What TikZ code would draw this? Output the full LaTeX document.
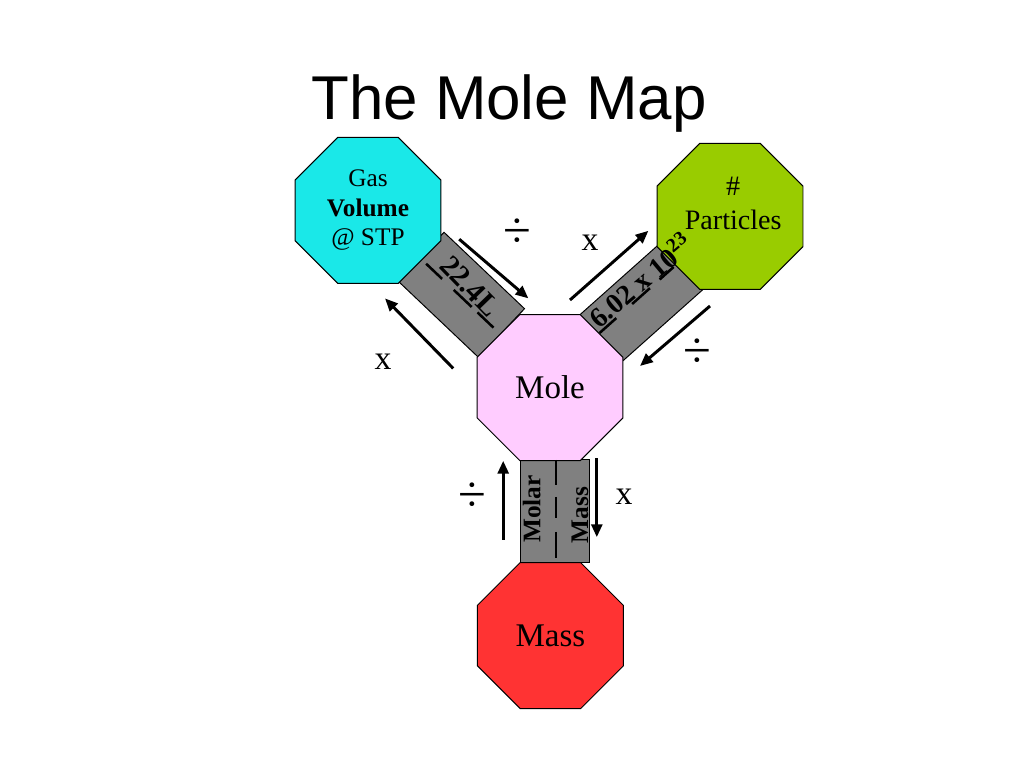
\documentclass[tikz,border=0pt]{standalone}
\usepackage{fontspec}
\setmainfont{Liberation Serif}
\newfontfamily\titlefont{Liberation Sans}
\usetikzlibrary{shapes.geometric,arrows.meta}
\definecolor{gascyan}{RGB}{26,232,232}
\definecolor{partgreen}{RGB}{153,204,0}
\definecolor{molepink}{RGB}{255,204,255}
\definecolor{massred}{RGB}{255,51,51}
\definecolor{boxgray}{RGB}{128,128,128}
\tikzset{
  octa/.style={regular polygon, regular polygon sides=8, minimum size=3.95cm,
    inner sep=0pt, outer sep=0pt, draw=black, line width=0.7pt, align=center},
  convbox/.style={draw=black, fill=boxgray, line width=0.7pt, inner sep=0pt, outer sep=0pt},
  flow/.style={line width=2.1pt, -{Triangle[length=0.32cm,width=0.27cm]}},
  barline/.style={line width=1.8pt},
  op/.style={font=\fontsize{24}{26}\selectfont},
  divop/.style={font=\fontsize{36}{38}\selectfont},
  boxtext/.style={font=\fontsize{20}{22}\selectfont\bfseries, inner sep=0pt},
}
\begin{document}
\begin{tikzpicture}
            \useasboundingbox (0,0) rectangle (25.6,19.2);
            \node[font=\titlefont\fontsize{44}{48}\selectfont, anchor=base] (title) at (12.725,16.22) {The Mole Map};
            % conversion boxes
            \node[convbox, minimum width=2.775cm, minimum height=1.675cm, rotate=-43.5] (volbox) at (11.53,11.83) {};
            \node[convbox, minimum width=2.725cm, minimum height=1.575cm, rotate=41.7] (avobox) at (16.04,11.65) {};
            \node[convbox, minimum width=1.725cm, minimum height=2.575cm] (molbox) at (13.87,6.42) {};
            % octagons
            \node[octa, fill=gascyan, font=\fontsize{18}{21}\selectfont] (gas) at (9.2,13.94) {Gas\\\textbf{Volume}\\@ STP};
            \node[octa, fill=partgreen] (part) at (18.25,13.79) {};
            \node[font=\fontsize{20}{24}\selectfont, align=center] (partlbl) at (18.33,14.12) {\#\\Particles};
            \node[octa, fill=molepink, font=\fontsize{23.5}{26}\selectfont] (mole) at (13.75,9.51) {Mole};
            \node[octa, fill=massred, font=\fontsize{23.5}{26}\selectfont] (mass) at (13.76,3.31) {Mass};
            % box texts
            \begin{scope}[shift={(volbox.center)}, rotate=-43.5]
                \draw[barline] (-1.17,-0.04) -- (-0.62,-0.04) (-0.22,-0.04) -- (0.40,-0.04) (0.60,-0.04) -- (1.15,-0.04);
                \node[boxtext, font=\fontsize{21}{24}\selectfont\bfseries, rotate=-46, anchor=base] (vollbl) at (0,0.07) {22.4L};
            \end{scope}
            \begin{scope}[shift={(avobox.center)}, rotate=41.7]
                \draw[barline] (-1.3,0.12) -- (-0.74,0.12) (-0.21,0.12) -- (0.385,0.12) (0.71,0.12) -- (1.18,0.12);
                \node[boxtext, rotate=40, anchor=base west] (avolbl) at (-1.25,0.2) {6.02 x 10\textsuperscript{23}};
            \end{scope}
            \draw[barline] (13.9,7.7) -- (13.9,7.075) (13.9,6.775) -- (13.9,6.25) (13.9,5.9) -- (13.9,5.25);
            \node[boxtext, font=\fontsize{18}{20}\selectfont\bfseries, rotate=90] (molarlbl) at (13.29,6.475) {Molar};
            \node[boxtext, font=\fontsize{18}{20}\selectfont\bfseries, rotate=90] (masslbl) at (14.5,6.325) {Mass};
            % arrows
            \coordinate (vdivs) at (11.48,13.22);
            \coordinate (vdive) at (13.21,11.74);
            \coordinate (vmuls) at (11.33,9.99);
            \coordinate (vmule) at (9.625,11.74);
            \coordinate (pmuls) at (14.25,11.7);
            \coordinate (pmule) at (16.21,13.43);
            \coordinate (pdivs) at (17.75,11.55);
            \coordinate (pdive) at (16.0,10.05);
            \coordinate (mdivs) at (12.58,5.7);
            \coordinate (mdive) at (12.58,7.68);
            \coordinate (mmuls) at (14.92,7.74);
            \coordinate (mmule) at (14.92,5.77);
            \draw[flow] (vdivs) -- (vdive);
            \draw[flow] (vmuls) -- (vmule);
            \draw[flow] (pmuls) -- (pmule);
            \draw[flow] (pdivs) -- (pdive);
            \draw[flow] (mdivs) -- (mdive);
            \draw[flow] (mmuls) -- (mmule);
            \node[divop] (vdiv) at (12.93,13.38) {÷};
            \node[op] (vmul) at (9.575,10.15) {x};
            \node[op] (pmul) at (14.75,13.125) {x};
            \node[divop] (pdiv) at (17.43,10.375) {÷};
            \node[divop] (mdiv) at (11.8,6.775) {÷};
            \node[op] (mmul) at (15.6,6.775) {x};
\end{tikzpicture}
\end{document}
